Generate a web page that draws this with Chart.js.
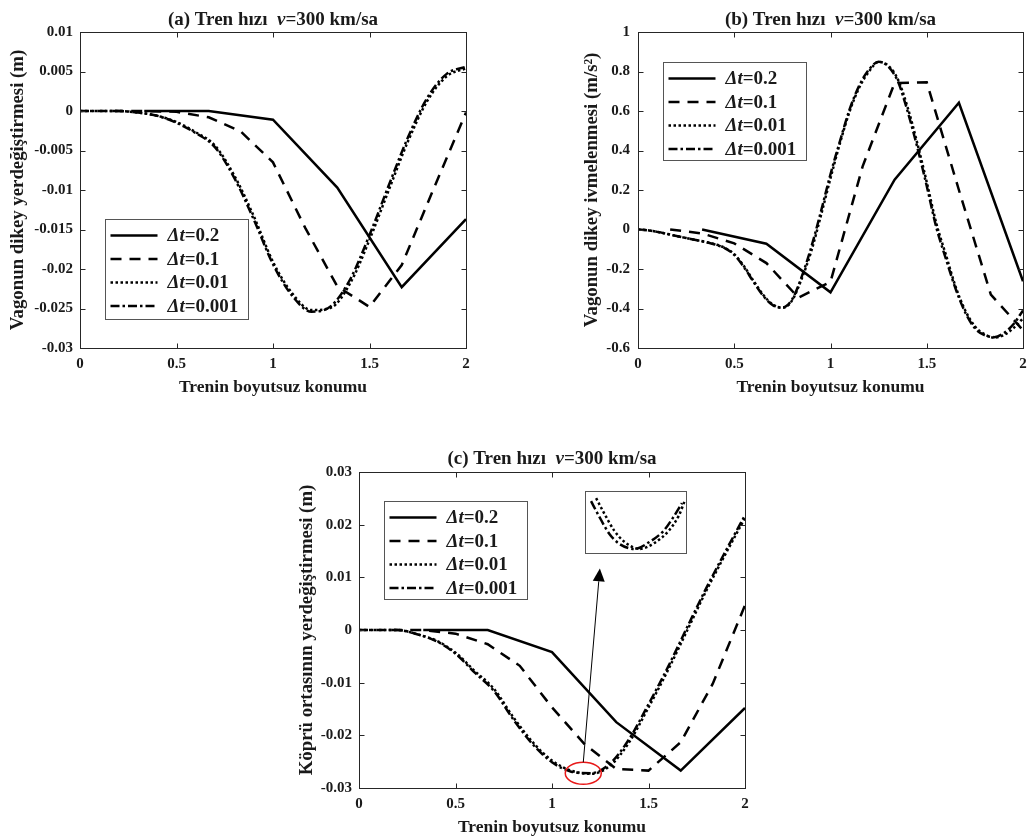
<!DOCTYPE html>
<html>
<head>
<meta charset="utf-8">
<script src="https://cdn.jsdelivr.net/npm/chart.js@4.4.1/dist/chart.umd.min.js"></script>
<style>
  body { margin: 0; background: #fff; width: 1027px; height: 840px; position: relative; overflow: hidden; }
  canvas { position: absolute; }
</style>
</head>
<body>
<canvas id="chartA" width="480" height="400" style="left:0;top:0"></canvas>
<canvas id="chartB" width="522" height="400" style="left:520px;top:0"></canvas>
<canvas id="chartC" width="480" height="410" style="left:280px;top:430px"></canvas>
<canvas id="inset" width="102" height="63" style="left:585px;top:491px"></canvas>
<script>
// x positions of the samples for each time step
const xStep02 = [0.333, 0.667, 1, 1.333, 1.667, 2];
const xStep01 = [0.167, 0.333, 0.5, 0.667, 0.833, 1, 1.167, 1.333, 1.5, 1.667, 1.833, 2];
const xFine = [0, 0.1, 0.2, 0.3, 0.4, 0.5, 0.6, 0.7, 0.8, 0.9, 1, 1.1, 1.2, 1.3, 1.4, 1.5, 1.6, 1.7, 1.8, 1.9, 2];
const xFineB = [0, 0.05, 0.1, 0.15, 0.2, 0.25, 0.3, 0.35, 0.4, 0.45, 0.5, 0.55, 0.6, 0.65, 0.7, 0.75, 0.8, 0.85, 0.9, 0.95,
                1, 1.05, 1.1, 1.15, 1.2, 1.25, 1.3, 1.35, 1.4, 1.45, 1.5, 1.55, 1.6, 1.65, 1.7, 1.75, 1.8, 1.85, 1.9, 1.95, 2];

// tick labels
const xTicks = [0, 0.5, 1, 1.5, 2];
const yTicksA = [-0.03, -0.025, -0.02, -0.015, -0.01, -0.005, 0, 0.005, 0.01];
const yTicksB = [-0.6, -0.4, -0.2, 0, 0.2, 0.4, 0.6, 0.8, 1];
const yTicksC = [-0.03, -0.02, -0.01, 0, 0.01, 0.02, 0.03];
const stepLabels = ['0.2', '0.1', '0.01', '0.001'];

// (a) vehicle vertical displacement (m)
const dispA02 = [0, 0, -0.0011, -0.0097, -0.0223, -0.0137];
const dispA01 = [0, 0, -0.0001, -0.0008, -0.0026, -0.0065, -0.0148, -0.0222, -0.0248, -0.0195, -0.0098, -0.0002];
const dispA001 = [0, 0, 0, -0.0002, -0.0006, -0.0014, -0.0027, -0.0044, -0.0082, -0.0133, -0.0191, -0.0231, -0.0252,
                  -0.0249, -0.0218, -0.0163, -0.0100, -0.0038, 0.0013, 0.0044, 0.0054];
const dispA0001 = [0, 0, 0, -0.0002, -0.0006, -0.0015, -0.0028, -0.0046, -0.0085, -0.0137, -0.0194, -0.0234, -0.0254,
                   -0.0247, -0.0213, -0.0157, -0.0094, -0.0033, 0.0017, 0.0047, 0.0056];

// (b) vehicle vertical acceleration (m/s2)
const accB02 = [0, -0.072, -0.318, 0.252, 0.642, -0.262];
const accB01 = [0, -0.02, -0.07, -0.17, -0.345, -0.265, 0.32, 0.742, 0.745, 0.20, -0.33, -0.51];
const accB001 = [0, -0.004, -0.012, -0.022, -0.033, -0.043, -0.053, -0.063, -0.075, -0.092, -0.125, -0.185, -0.26, -0.33,
                 -0.38, -0.397, -0.36, -0.25, -0.11, 0.07, 0.26, 0.44, 0.60, 0.72, 0.80, 0.848, 0.83, 0.76, 0.62, 0.44,
                 0.24, 0.03, -0.13, -0.29, -0.41, -0.49, -0.53, -0.548, -0.535, -0.50, -0.45];
const accB0001 = [0, -0.004, -0.012, -0.022, -0.033, -0.043, -0.053, -0.063, -0.076, -0.094, -0.128, -0.19, -0.265, -0.335,
                  -0.383, -0.395, -0.355, -0.24, -0.09, 0.09, 0.28, 0.45, 0.61, 0.73, 0.81, 0.85, 0.825, 0.75, 0.60, 0.42,
                  0.22, 0.01, -0.15, -0.30, -0.42, -0.50, -0.535, -0.545, -0.525, -0.48, -0.41];

// (c) bridge midspan displacement (m)
const dispC02 = [0, 0, -0.0042, -0.0175, -0.0267, -0.0148];
const dispC01 = [0, 0, -0.0007, -0.0027, -0.0068, -0.0147, -0.0216, -0.0264, -0.0267, -0.0213, -0.0102, 0.0047];
const dispC001 = [0, 0, 0, -0.0008, -0.0020, -0.0043, -0.0078, -0.0112, -0.0166, -0.0213, -0.0248, -0.0267, -0.0273,
                  -0.0258, -0.0213, -0.0147, -0.0077, -0.0001, 0.0075, 0.0145, 0.0213];
const dispC0001 = [0, 0, 0, -0.0008, -0.0021, -0.0045, -0.0081, -0.0116, -0.0170, -0.0217, -0.0251, -0.0269, -0.0272,
                   -0.0254, -0.0207, -0.0141, -0.0071, 0.0005, 0.0080, 0.0150, 0.0218];

// zoomed inset of (c) minimum (inset units)
const insetDashDotX = [6, 14, 24, 34, 49, 64, 78, 88, 96];
const insetDashDotY = [52, 37, 20, 10, 5, 12, 23, 37, 50];
const insetDottedX = [11, 19, 29, 39, 54, 69, 83, 93, 99];
const insetDottedY = [55, 40, 23, 12, 5, 11, 23, 38, 53];

// callout in (c), data coordinates
const zoomSpot = { x: 1.162, y: -0.0272 };
const arrowTip = { x: 1.248, y: 0.0117 };

const FONT = '"Liberation Serif", "Times New Roman", serif';
const INK = '#1a1a1a';
const dashes = [[], [11, 8], [2.5, 2.5], [9, 3, 2.5, 3]];

Chart.defaults.font.family = FONT;
Chart.defaults.color = INK;

function series(xs, ys, k, smooth) {
    return {
        label: 'Δt=' + stepLabels[k],
        data: xs.map((x, i) => ({ x: x, y: ys[i] })),
        borderColor: '#000',
        borderWidth: 2.5,
        borderDash: dashes[k],
        borderCapStyle: 'butt',
        pointRadius: 0,
        fill: false,
        tension: smooth ? 0.4 : 0,
        cubicInterpolationMode: smooth ? 'monotone' : 'default'
    };
}

// draw a run of text pieces, some italic, all bold
function drawRuns(ctx, runs, x, y, size, align) {
    let total = 0;
    runs.forEach(r => {
        ctx.font = (r.it ? 'italic ' : '') + 'bold ' + size + 'px ' + FONT;
        r.w = ctx.measureText(r.t).width;
        total += r.w;
    });
    if (align === 'center') x -= total / 2;
    runs.forEach(r => {
        ctx.font = (r.it ? 'italic ' : '') + 'bold ' + size + 'px ' + FONT;
        ctx.fillText(r.t, x, y);
        x += r.w;
    });
}

// box frame with inward ticks on all four sides
const framePlugin = {
    id: 'frame',
    afterDatasetsDraw(chart) {
        const { ctx, chartArea: a, scales: { x, y } } = chart;
        const L = Math.round(a.left) + 0.5, R = Math.round(a.right) + 0.5;
        const T = Math.round(a.top) + 0.5, B = Math.round(a.bottom) + 0.5;
        ctx.save();
        ctx.setLineDash([]);
        ctx.strokeStyle = '#262626';
        ctx.lineWidth = 1;
        ctx.strokeRect(L, T, R - L, B - T);
        ctx.beginPath();
        x.ticks.forEach(t => {
            const px = Math.round(x.getPixelForValue(t.value)) + 0.5;
            ctx.moveTo(px, B); ctx.lineTo(px, B - 5);
            ctx.moveTo(px, T); ctx.lineTo(px, T + 5);
        });
        y.ticks.forEach(t => {
            const py = Math.round(y.getPixelForValue(t.value)) + 0.5;
            ctx.moveTo(L, py); ctx.lineTo(L + 5, py);
            ctx.moveTo(R, py); ctx.lineTo(R - 5, py);
        });
        ctx.stroke();
        ctx.restore();
    }
};

const titlePlugin = {
    id: 'figTitle',
    afterDraw(chart, args, o) {
        const { ctx, chartArea: a } = chart;
        ctx.save();
        ctx.fillStyle = INK;
        ctx.textBaseline = 'middle';
        drawRuns(ctx, [{ t: o.tag + ' Tren hızı  ' }, { t: 'v', it: true }, { t: '=300 km/sa' }],
            (a.left + a.right) / 2, o.y, 19, 'center');
        ctx.restore();
    }
};

const legendPlugin = {
    id: 'boxLegend',
    afterDraw(chart, args, o) {
        const { ctx, chartArea: a } = chart;
        const bx = Math.round(a.left + o.x) + 0.5, by = Math.round(a.top + o.y) + 0.5;
        ctx.save();
        ctx.fillStyle = '#fff';
        ctx.fillRect(bx, by, 143, o.h);
        ctx.strokeStyle = '#555';
        ctx.lineWidth = 1;
        ctx.strokeRect(bx, by, 143, o.h);
        chart.data.datasets.forEach((ds, i) => {
            const ry = by + 16 + i * 23.5;
            ctx.beginPath();
            ctx.setLineDash(ds.borderDash);
            ctx.lineWidth = 2.5;
            ctx.lineCap = 'butt';
            ctx.strokeStyle = '#000';
            ctx.moveTo(bx + 5, ry);
            ctx.lineTo(bx + 52, ry);
            ctx.stroke();
            ctx.setLineDash([]);
            ctx.fillStyle = INK;
            ctx.textBaseline = 'middle';
            drawRuns(ctx, [{ t: 'Δt', it: true }, { t: '=' + stepLabels[i] }], bx + 62, ry + 1, 19, 'left');
        });
        ctx.restore();
    }
};

const calloutPlugin = {
    id: 'callout',
    afterDatasetsDraw(chart) {
        const { ctx, scales: { x, y } } = chart;
        const cx = x.getPixelForValue(zoomSpot.x), cy = y.getPixelForValue(zoomSpot.y);
        const tx = x.getPixelForValue(arrowTip.x), ty = y.getPixelForValue(arrowTip.y);
        ctx.save();
        ctx.setLineDash([]);
        ctx.strokeStyle = 'rgb(232,24,24)';
        ctx.lineWidth = 1.5;
        ctx.beginPath();
        ctx.ellipse(cx, cy, 18, 11, 0, 0, 2 * Math.PI);
        ctx.stroke();
        const sx = cx, sy = cy - 11;
        const ang = Math.atan2(ty - sy, tx - sx);
        const hl = 13, hw = 6;
        const bx = tx - hl * Math.cos(ang), byy = ty - hl * Math.sin(ang);
        ctx.strokeStyle = '#000';
        ctx.lineWidth = 1;
        ctx.beginPath();
        ctx.moveTo(sx, sy);
        ctx.lineTo(bx, byy);
        ctx.stroke();
        ctx.fillStyle = '#000';
        ctx.beginPath();
        ctx.moveTo(tx, ty);
        ctx.lineTo(bx + hw * Math.sin(ang), byy - hw * Math.cos(ang));
        ctx.lineTo(bx - hw * Math.sin(ang), byy + hw * Math.cos(ang));
        ctx.closePath();
        ctx.fill();
        ctx.restore();
    }
};

function makeScales(yTicks, yTitle, yWidth, yPad) {
    const tickFont = { family: FONT, weight: 'bold', size: 15 };
    return {
        x: {
            type: 'linear', min: 0, max: 2,
            afterBuildTicks: s => { s.ticks = xTicks.map(v => ({ value: v })); },
            afterFit: s => { s.height = 52; },
            grid: { display: false, drawTicks: false },
            border: { display: false },
            ticks: { font: tickFont, color: INK, padding: 7, autoSkip: false, maxRotation: 0, callback: v => String(v) },
            title: { display: true, text: 'Trenin boyutsuz konumu', font: { family: FONT, weight: 'bold', size: 17.5 },
                     color: INK, padding: { top: 0, bottom: 2.5 } }
        },
        y: {
            type: 'linear', min: yTicks[0], max: yTicks[yTicks.length - 1],
            afterBuildTicks: s => { s.ticks = yTicks.map(v => ({ value: v })); },
            afterFit: s => { s.width = yWidth; },
            grid: { display: false, drawTicks: false },
            border: { display: false },
            ticks: { font: tickFont, color: INK, padding: yPad, autoSkip: false, callback: v => String(v) },
            title: { display: true, text: yTitle, font: { family: FONT, weight: 'bold', size: 18.8 },
                     color: INK, padding: { top: 7, bottom: 0 } }
        }
    };
}

function makeChart(id, datasets, yTicks, yTitle, layout, yWidth, yPad, title, legend, extra) {
    return new Chart(document.getElementById(id), {
        type: 'line',
        data: { datasets: datasets },
        options: {
            responsive: false,
            animation: false,
            layout: { padding: layout },
            scales: makeScales(yTicks, yTitle, yWidth, yPad),
            plugins: {
                legend: { display: false },
                tooltip: { enabled: false },
                figTitle: title,
                boxLegend: legend
            }
        },
        plugins: [framePlugin, titlePlugin, legendPlugin].concat(extra || [])
    });
}

makeChart('chartA', [
    series(xStep02, dispA02, 0, false),
    series(xStep01, dispA01, 1, false),
    series(xFine, dispA001, 2, true),
    series(xFine, dispA0001, 3, true)
], yTicksA, 'Vagonun dikey yerdeğiştirmesi (m)',
    { left: 0, right: 14, top: 32, bottom: 0 }, 80, 7,
    { tag: '(a)', y: 20 }, { x: 25, y: 187, h: 100 });

makeChart('chartB', [
    series(xStep02, accB02, 0, false),
    series(xStep01, accB01, 1, false),
    series(xFineB, accB001, 2, true),
    series(xFineB, accB0001, 3, true)
], yTicksB, 'Vagonun dikey ivmelenmesi (m/s²)',
    { left: 54, right: 19, top: 32, bottom: 0 }, 64, 8,
    { tag: '(b)', y: 20 }, { x: 25, y: 30, h: 98 });

makeChart('chartC', [
    series(xStep02, dispC02, 0, false),
    series(xStep01, dispC01, 1, false),
    series(xFine, dispC001, 2, true),
    series(xFine, dispC0001, 3, true)
], yTicksC, 'Köprü ortasının yerdeğiştirmesi (m)',
    { left: 9, right: 15, top: 42, bottom: 0 }, 70, 7,
    { tag: '(c)', y: 29 }, { x: 25, y: 29, h: 98 }, [calloutPlugin]);

// inset: magnified minimum of the two finest steps
new Chart(document.getElementById('inset'), {
    type: 'line',
    data: {
        datasets: [
            series(insetDottedX, insetDottedY, 2, true),
            series(insetDashDotX, insetDashDotY, 3, true)
        ]
    },
    options: {
        responsive: false,
        animation: false,
        layout: { padding: 0 },
        scales: {
            x: { type: 'linear', min: 0, max: 101, display: false },
            y: { type: 'linear', min: 0, max: 62, display: false }
        },
        plugins: { legend: { display: false }, tooltip: { enabled: false } }
    },
    plugins: [{
        id: 'insetFrame',
        beforeDraw(chart) {
            const ctx = chart.ctx;
            ctx.save();
            ctx.fillStyle = '#fff';
            ctx.fillRect(0, 0, chart.width, chart.height);
            ctx.restore();
        },
        afterDraw(chart) {
            const ctx = chart.ctx;
            ctx.save();
            ctx.strokeStyle = '#555';
            ctx.lineWidth = 1;
            ctx.strokeRect(0.5, 0.5, chart.width - 1, chart.height - 1);
            ctx.restore();
        }
    }]
});
</script>
</body>
</html>
